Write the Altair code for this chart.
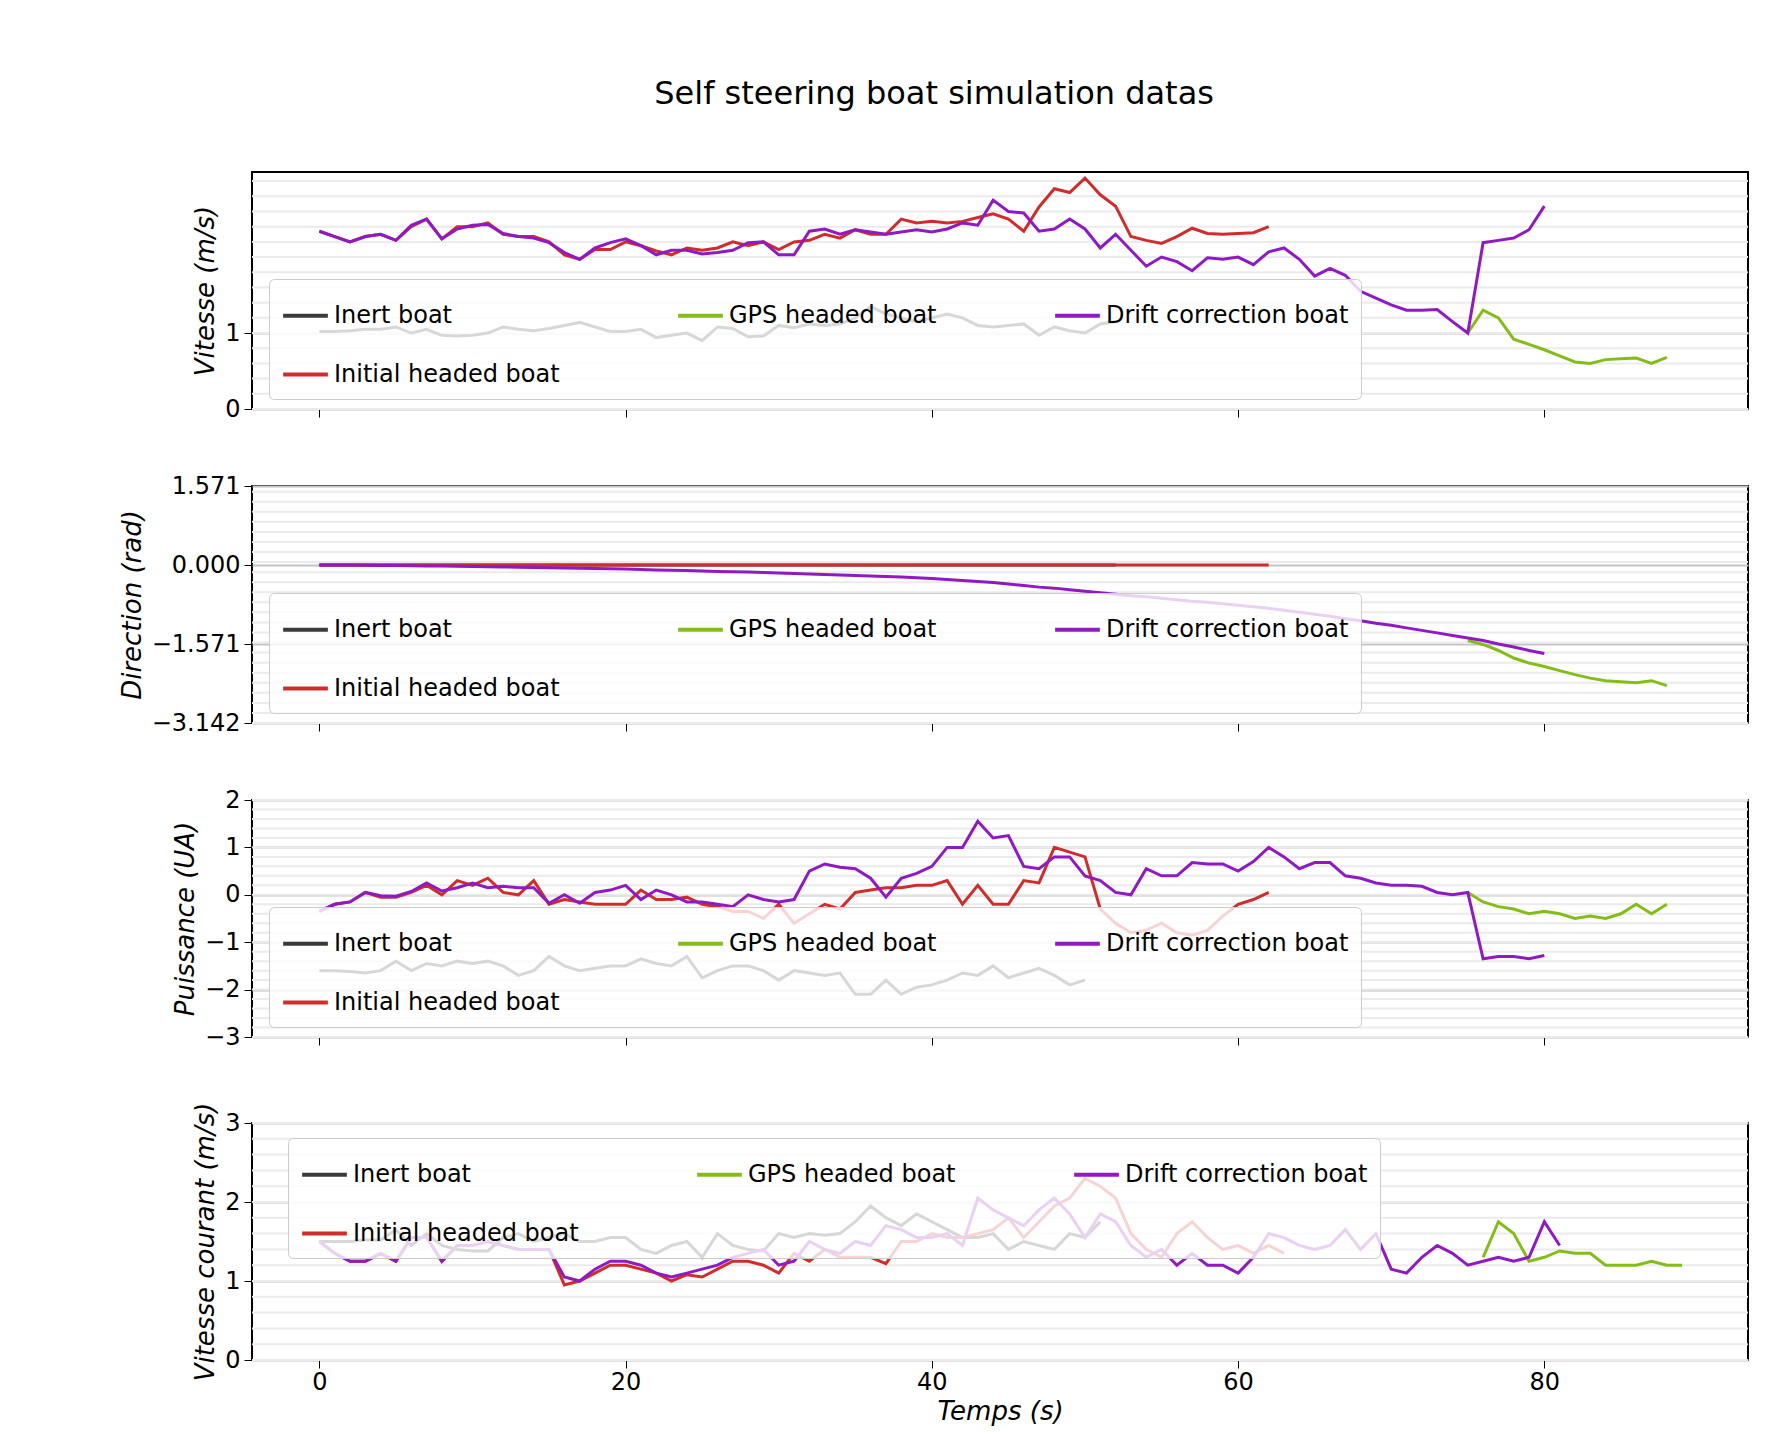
import altair as alt
import pandas as pd

series_names = ["Inert boat", "Initial headed boat", "GPS headed boat", "Drift correction boat"]

# Vitesse (m/s)
speed_inert = [1.02, 1.02, 1.03, 1.05, 1.05, 1.08, 1.0, 1.05, 0.97, 0.96, 0.97, 1.0, 1.08, 1.05, 1.03, 1.06,
               1.1, 1.14, 1.08, 1.02, 1.02, 1.05, 0.94, 0.97, 1.0, 0.9, 1.08, 1.06, 0.95, 0.96, 1.1, 1.07,
               1.12, 1.1, 1.12, 1.2, 1.35, 1.25, 1.2, 1.15, 1.2, 1.25, 1.2, 1.1, 1.08, 1.1, 1.12, 0.97,
               1.08, 1.03, 1.0, 1.12, 1.15]
speed_initial = [2.34, 2.27, 2.2, 2.27, 2.3, 2.22, 2.4, 2.5, 2.24, 2.4, 2.4, 2.45, 2.3, 2.27, 2.27, 2.2,
                 2.03, 1.97, 2.1, 2.1, 2.2, 2.15, 2.08, 2.03, 2.12, 2.09, 2.12, 2.2, 2.15, 2.2, 2.1, 2.2,
                 2.22, 2.3, 2.25, 2.36, 2.3, 2.3, 2.5, 2.45, 2.47, 2.45, 2.47, 2.52, 2.57, 2.5, 2.34, 2.66,
                 2.9, 2.85, 3.04, 2.82, 2.67, 2.27, 2.22, 2.18, 2.27, 2.38, 2.31, 2.3, 2.31, 2.32, 2.4]
speed_gps = [1.0, 1.3, 1.2, 0.92, 0.85, 0.78, 0.7, 0.62, 0.6, 0.65, 0.66, 0.67, 0.6, 0.68]
speed_drift = [2.34, 2.27, 2.2, 2.27, 2.3, 2.22, 2.42, 2.5, 2.24, 2.37, 2.42, 2.43, 2.31, 2.27, 2.25, 2.19,
               2.06, 1.97, 2.12, 2.19, 2.24, 2.15, 2.03, 2.09, 2.09, 2.04, 2.06, 2.09, 2.19, 2.2, 2.03, 2.03,
               2.34, 2.37, 2.3, 2.36, 2.33, 2.3, 2.33, 2.36, 2.33, 2.37, 2.45, 2.42, 2.75, 2.6, 2.58, 2.34,
               2.37, 2.5, 2.37, 2.12, 2.3, 2.09, 1.88, 2.0, 1.94, 1.82, 1.99, 1.97, 2.0, 1.9, 2.07, 2.12,
               1.97, 1.75, 1.85, 1.76, 1.55, 1.46, 1.37, 1.3, 1.3, 1.31, 1.15, 1.0, 2.19, 2.22, 2.25, 2.36, 2.67]

# Direction (rad)
dir_inert = [0.0] * 53
dir_initial = [0.0] * 63
dir_gps = [-1.5, -1.58, -1.7, -1.85, -1.95, -2.02, -2.1, -2.18, -2.25, -2.3, -2.32, -2.34, -2.3, -2.4]
dir_drift = [0, 0, 0, -0.005, -0.01, -0.01, -0.015, -0.02, -0.02, -0.025, -0.03, -0.035, -0.04, -0.045,
             -0.05, -0.055, -0.06, -0.065, -0.07, -0.075, -0.08, -0.09, -0.1, -0.105, -0.11, -0.12, -0.13,
             -0.135, -0.14, -0.15, -0.16, -0.17, -0.18, -0.19, -0.2, -0.21, -0.22, -0.23, -0.24, -0.255,
             -0.27, -0.29, -0.31, -0.33, -0.35, -0.38, -0.41, -0.44, -0.46, -0.49, -0.52, -0.55, -0.58,
             -0.61, -0.63, -0.66, -0.69, -0.72, -0.74, -0.77, -0.8, -0.83, -0.86, -0.9, -0.94, -0.98,
             -1.02, -1.07, -1.11, -1.16, -1.2, -1.25, -1.3, -1.35, -1.4, -1.45, -1.5, -1.57, -1.63, -1.7, -1.76]

# Puissance (UA)
power_inert = [-1.6, -1.6, -1.62, -1.65, -1.6, -1.4, -1.6, -1.45, -1.5, -1.4, -1.45, -1.4, -1.5, -1.7,
               -1.6, -1.3, -1.5, -1.6, -1.55, -1.5, -1.5, -1.35, -1.45, -1.5, -1.3, -1.75, -1.6, -1.5,
               -1.5, -1.6, -1.8, -1.6, -1.65, -1.7, -1.65, -2.1, -2.1, -1.8, -2.1, -1.95, -1.9, -1.8,
               -1.65, -1.7, -1.5, -1.75, -1.65, -1.55, -1.7, -1.9, -1.8]
power_initial = [-0.35, -0.2, -0.15, 0.05, -0.05, -0.05, 0.05, 0.2, 0.0, 0.3, 0.2, 0.35, 0.05, 0.0, 0.3,
                 -0.2, -0.1, -0.15, -0.2, -0.2, -0.2, 0.1, -0.1, -0.1, -0.05, -0.2, -0.25, -0.35, -0.35,
                 -0.5, -0.2, -0.6, -0.4, -0.2, -0.3, 0.05, 0.1, 0.15, 0.15, 0.2, 0.2, 0.3, -0.2, 0.2,
                 -0.2, -0.2, 0.3, 0.25, 1.0, 0.9, 0.8, -0.3, -0.6, -0.8, -0.75, -0.6, -0.8, -0.85, -0.75,
                 -0.45, -0.2, -0.1, 0.05]
power_gps = [0.05, -0.15, -0.25, -0.3, -0.4, -0.35, -0.4, -0.5, -0.45, -0.5, -0.4, -0.2, -0.4, -0.2]
power_drift = [-0.35, -0.2, -0.15, 0.05, -0.02, -0.03, 0.07, 0.25, 0.08, 0.15, 0.25, 0.15, 0.18, 0.15,
               0.15, -0.18, 0.0, -0.18, 0.05, 0.1, 0.2, -0.1, 0.1, 0.0, -0.15, -0.15, -0.2, -0.25, 0.0,
               -0.1, -0.15, -0.1, 0.5, 0.65, 0.58, 0.55, 0.35, -0.05, 0.35, 0.45, 0.6, 1.0, 1.0, 1.55,
               1.2, 1.25, 0.6, 0.55, 0.8, 0.8, 0.4, 0.3, 0.05, 0.0, 0.55, 0.4, 0.4, 0.68, 0.65, 0.65,
               0.5, 0.7, 1.0, 0.8, 0.55, 0.68, 0.68, 0.4, 0.35, 0.25, 0.2, 0.2, 0.18, 0.05, 0.0, 0.05,
               -1.35, -1.3, -1.3, -1.35, -1.28]

# Vitesse courant (m/s)
current_inert = [1.5, 1.5, 1.5, 1.52, 1.52, 1.65, 1.45, 1.6, 1.45, 1.4, 1.38, 1.38, 1.55, 1.6, 1.5, 1.55,
                 1.6, 1.5, 1.5, 1.55, 1.55, 1.4, 1.35, 1.45, 1.5, 1.3, 1.6, 1.45, 1.4, 1.38, 1.6, 1.55,
                 1.6, 1.58, 1.6, 1.75, 1.95, 1.8, 1.7, 1.85, 1.75, 1.65, 1.55, 1.55, 1.6, 1.4, 1.5, 1.45,
                 1.4, 1.6, 1.55, 1.75]
current_initial = [1.5, 1.35, 1.25, 1.25, 1.35, 1.25, 1.55, 1.55, 1.25, 1.45, 1.45, 1.5, 1.45, 1.4, 1.4,
                   1.4, 0.95, 1.0, 1.1, 1.2, 1.2, 1.15, 1.1, 1.0, 1.08, 1.05, 1.15, 1.25, 1.25, 1.2, 1.1,
                   1.35, 1.25, 1.4, 1.3, 1.3, 1.3, 1.22, 1.5, 1.5, 1.6, 1.55, 1.55, 1.6, 1.65, 1.8, 1.55,
                   1.75, 1.95, 2.05, 2.3, 2.2, 2.05, 1.6, 1.4, 1.3, 1.6, 1.75, 1.55, 1.4, 1.45, 1.35, 1.45, 1.35]
current_gps = [1.3, 1.75, 1.6, 1.25, 1.3, 1.38, 1.35, 1.35, 1.2, 1.2, 1.2, 1.25, 1.2, 1.2]
current_drift = [1.5, 1.35, 1.25, 1.25, 1.35, 1.25, 1.55, 1.55, 1.25, 1.45, 1.45, 1.5, 1.45, 1.4, 1.4,
                 1.4, 1.05, 1.0, 1.15, 1.25, 1.25, 1.2, 1.1, 1.05, 1.1, 1.15, 1.2, 1.3, 1.35, 1.4, 1.2,
                 1.25, 1.5, 1.4, 1.35, 1.5, 1.45, 1.7, 1.65, 1.55, 1.55, 1.6, 1.45, 2.05, 1.9, 1.8, 1.7,
                 1.9, 2.05, 1.85, 1.55, 1.85, 1.75, 1.45, 1.3, 1.4, 1.2, 1.35, 1.2, 1.2, 1.1, 1.3, 1.6,
                 1.55, 1.45, 1.4, 1.45, 1.65, 1.4, 1.6, 1.15, 1.1, 1.3, 1.45, 1.35, 1.2, 1.25, 1.3, 1.25,
                 1.3, 1.75, 1.45]


def make_df(inert, initial, gps, drift, gps_start):
    rows = []
    for k, (vals, start) in enumerate([(inert, 0), (initial, 0), (gps, gps_start), (drift, 0)]):
        for i, v in enumerate(vals):
            rows.append({"t": start + i, "v": v, "boat": series_names[k], "order": k})
    return pd.DataFrame(rows)


def minor_df(lo, hi, step=0.2):
    vals = []
    v = lo
    while v <= hi + 1e-9:
        vals.append(round(v, 4))
        v += step
    return pd.DataFrame({"g": vals})


W, H = 1496, 237
# row-major legend order so that it reads like the original 3-column legend
legend_order = ["Inert boat", "GPS headed boat", "Drift correction boat", "Initial headed boat"]
legend_colors = ["#3a3a3a", "#84bd1a", "#9019c2", "#d12c2c"]

font = "DejaVu Sans"


def panel(df, title, domain, ticks, fmt, leg_y, leg_x=17, last=False):
    yscale = alt.Scale(domain=domain, nice=False, zero=False)
    grid = alt.Chart(minor_df(domain[0], domain[1])).mark_rule(color="#ebebeb", strokeWidth=2).encode(
        y=alt.Y("g:Q", scale=yscale)
    )
    xaxis = alt.Axis(values=[0, 20, 40, 60, 80], title="Temps (s)" if last else None, labels=last,
                     grid=False, tickSize=8, labelFontSize=24, titleFontSize=26, titleFontStyle="italic",
                     titleFont=font, labelFont=font, titleFontWeight="normal",
                     labelColor="black", titleColor="black", tickColor="black", domain=False)
    lines = alt.Chart(df).mark_line(strokeWidth=3).encode(
        x=alt.X("t:Q", scale=alt.Scale(domain=[-4.4, 93.3], nice=False), axis=xaxis),
        y=alt.Y("v:Q", scale=yscale,
                axis=alt.Axis(values=ticks, format=fmt, title=title, gridColor="#c4c4c4", gridWidth=2,
                              tickSize=8, labelFontSize=24, titleFontSize=26, titleFontStyle="italic",
                              titleFontWeight="normal", titleFont=font, labelFont=font,
                              labelColor="black", titleColor="black", tickColor="black", domain=False,
                              titlePadding=6, labelPadding=4)),
        color=alt.Color("boat:N", scale=alt.Scale(domain=legend_order, range=legend_colors),
                        legend=alt.Legend(title=None, orient="none", legendX=leg_x, legendY=leg_y,
                                          direction="horizontal", columns=3, columnPadding=110,
                                          rowPadding=22, labelFontSize=24, labelFont=font,
                                          symbolType="stroke", symbolSize=2000, symbolStrokeWidth=4,
                                          fillColor="rgba(255,255,255,0.8)", strokeColor="#cccccc",
                                          padding=12, cornerRadius=5, labelLimit=400)),
        detail="order:Q",
    )
    return alt.layer(grid, lines).properties(width=W, height=H)


p1 = panel(make_df(speed_inert, speed_initial, speed_gps, speed_drift, 75), "Vitesse (m/s)",
           [0, 3.12], [0, 1], ".0f", 107)
p2 = panel(make_df(dir_inert, dir_initial, dir_gps, dir_drift, 75), "Direction (rad)",
           [-3.142, 1.571], [-3.142, -1.571, 0, 1.571], ".3f", 107)
p3 = panel(make_df(power_inert, power_initial, power_gps, power_drift, 75), "Puissance (UA)",
           [-3, 2], [-3, -2, -1, 0, 1, 2], ".0f", 107)
p4 = panel(make_df(current_inert, current_initial, current_gps, current_drift, 76), "Vitesse courant (m/s)",
           [0, 3], [0, 1, 2, 3], ".0f", 15, leg_x=36, last=True)

chart = alt.vconcat(p1, p2, p3, p4, spacing=51).resolve_scale(color="independent").properties(
    title=alt.Title("Self steering boat simulation datas", fontSize=32, font=font,
                    fontWeight="normal", anchor="middle", offset=60),
    padding={"left": 110, "top": 70, "right": 10, "bottom": 10},
).configure_view(stroke="black", strokeWidth=2)

chart.save("out.html", embed_options={"renderer": "svg", "actions": False})
